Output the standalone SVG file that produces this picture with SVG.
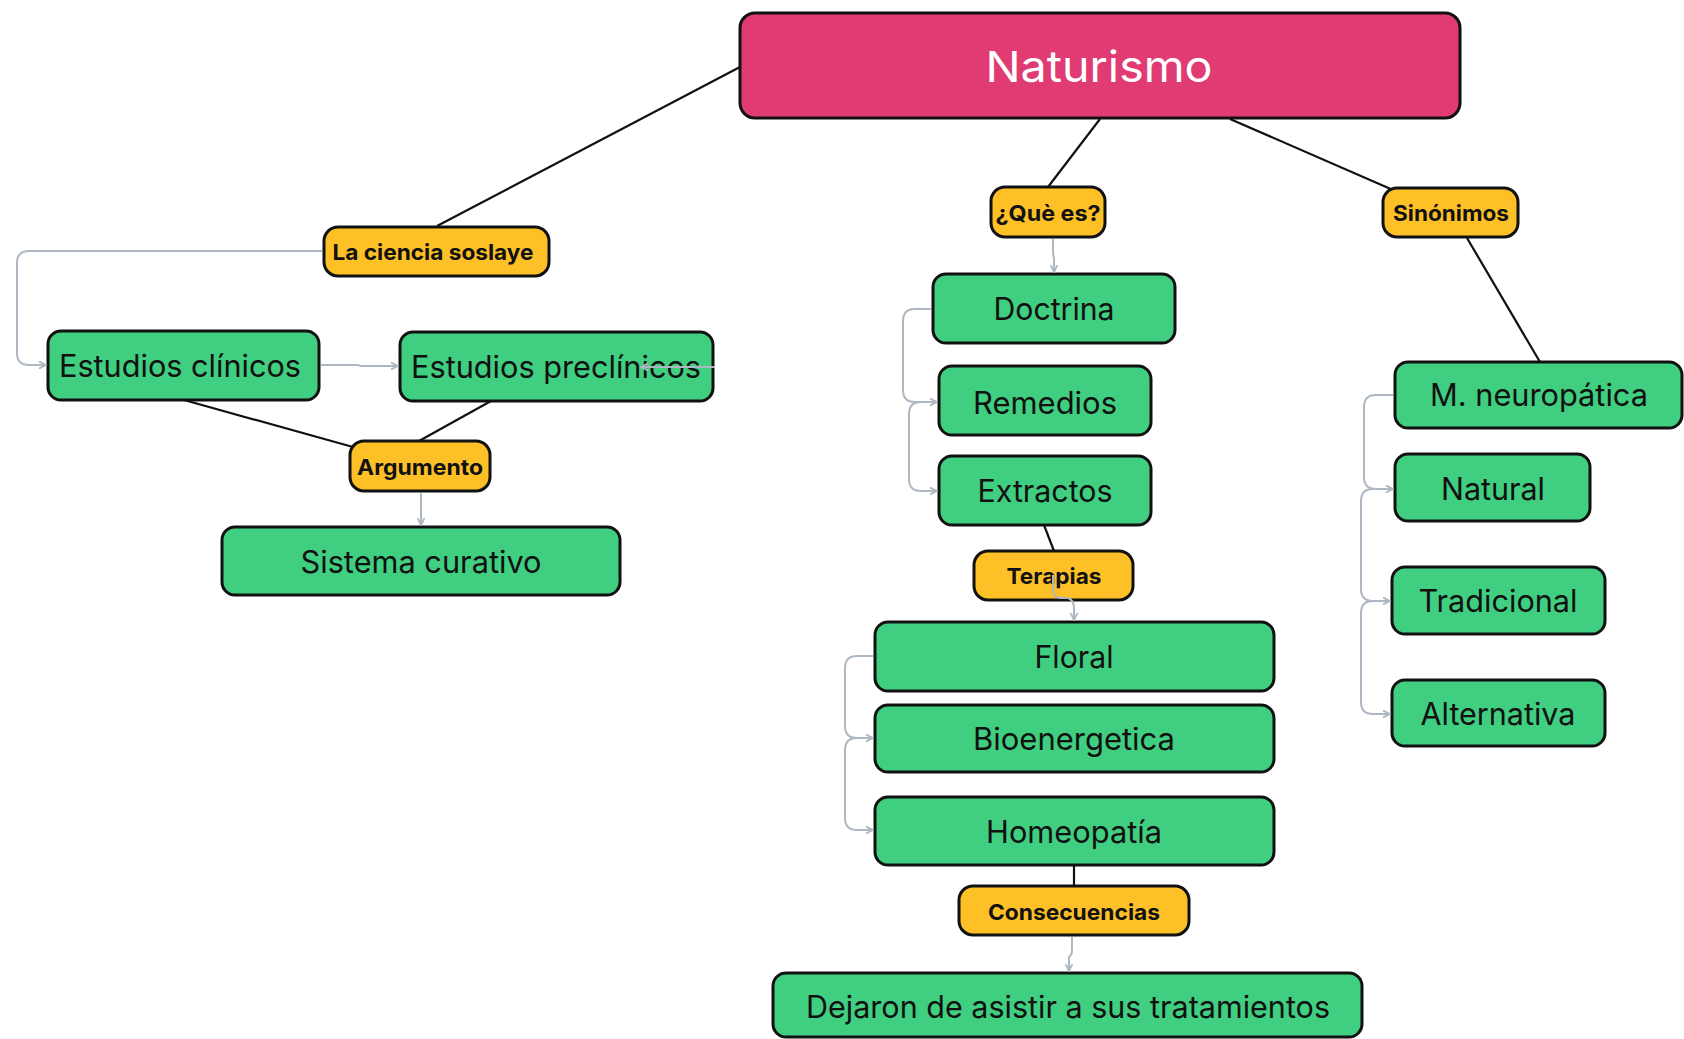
<svg xmlns="http://www.w3.org/2000/svg" width="1684" height="1039" viewBox="0 0 1684 1039">
<style>
.root{fill:#E03B72;stroke:#111;stroke-width:3}
.lnk{fill:#FDC026;stroke:#111;stroke-width:3}
.nd{fill:#40CE80;stroke:#111;stroke-width:3}
.t{font-family:Inter,"Noto Sans","Liberation Sans",sans-serif;text-anchor:middle;fill:#111}
.tr{font-size:43px;fill:#fff}
.tl{font-size:22px;font-weight:700}
.tn{font-size:31px}
.bl{stroke:#111;stroke-width:2.2;fill:none}
.gl{stroke:#AEB8C2;stroke-width:2;fill:none;marker-end:url(#ar)}
</style>
<defs>
<marker id="ar" viewBox="0 0 10 10" refX="9" refY="5" markerWidth="9" markerHeight="9" orient="auto" markerUnits="userSpaceOnUse">
<path d="M2,1.5 L9,5 L2,8.5" fill="none" stroke="#AEB8C2" stroke-width="2" stroke-linecap="round" stroke-linejoin="round"/>
</marker>
</defs>
<rect width="1684" height="1039" fill="#fff"/>
<g id="black-connectors">
<line class="bl" x1="740" y1="67" x2="437" y2="226"/>
<line class="bl" x1="1100" y1="119" x2="1048" y2="187"/>
<line class="bl" x1="1230" y1="119" x2="1393" y2="190"/>
<line class="bl" x1="1467" y1="238" x2="1540" y2="362"/>
<line class="bl" x1="184" y1="400" x2="353" y2="447"/>
<line class="bl" x1="491" y1="401" x2="419" y2="441"/>
<line class="bl" x1="1044" y1="525" x2="1054" y2="551"/>
<line class="bl" x1="1074" y1="865" x2="1074" y2="886"/>
</g>
<g id="naturismo"><rect class="root" x="740" y="13" width="720" height="105" rx="15"/><text class="t tr" x="1099" y="82" textLength="227" lengthAdjust="spacingAndGlyphs">Naturismo</text></g>
<g id="la-ciencia-soslaye"><rect class="lnk" x="324" y="227" width="225" height="49" rx="14"/><text class="t tl" x="433" y="260" textLength="201" lengthAdjust="spacingAndGlyphs">La ciencia soslaye</text></g>
<g id="argumento"><rect class="lnk" x="350" y="441" width="140" height="50" rx="14"/><text class="t tl" x="420" y="475" textLength="126" lengthAdjust="spacingAndGlyphs">Argumento</text></g>
<g id="que-es"><rect class="lnk" x="991" y="187" width="114" height="50" rx="14"/><text class="t tl" x="1048" y="221" textLength="105" lengthAdjust="spacingAndGlyphs">¿Què es?</text></g>
<g id="sinonimos"><rect class="lnk" x="1383" y="188" width="135" height="49" rx="14"/><text class="t tl" x="1451" y="221" textLength="116" lengthAdjust="spacingAndGlyphs">Sinónimos</text></g>
<g id="terapias"><rect class="lnk" x="974" y="551" width="159" height="49" rx="14"/><text class="t tl" x="1054" y="584" textLength="95" lengthAdjust="spacingAndGlyphs">Terapias</text></g>
<g id="consecuencias"><rect class="lnk" x="959" y="886" width="230" height="49" rx="14"/><text class="t tl" x="1074" y="920" textLength="172" lengthAdjust="spacingAndGlyphs">Consecuencias</text></g>
<g id="estudios-clinicos"><rect class="nd" x="48" y="331" width="271" height="69" rx="13"/><text class="t tn" x="180" y="377" textLength="242" lengthAdjust="spacingAndGlyphs">Estudios clínicos</text></g>
<g id="estudios-preclinicos"><rect class="nd" x="400" y="332" width="313" height="69" rx="13"/><text class="t tn" x="556" y="378" textLength="290" lengthAdjust="spacingAndGlyphs">Estudios preclínicos</text></g>
<g id="sistema-curativo"><rect class="nd" x="222" y="527" width="398" height="68" rx="13"/><text class="t tn" x="421" y="573" textLength="241" lengthAdjust="spacingAndGlyphs">Sistema curativo</text></g>
<g id="doctrina"><rect class="nd" x="933" y="274" width="242" height="69" rx="13"/><text class="t tn" x="1054" y="320" textLength="121" lengthAdjust="spacingAndGlyphs">Doctrina</text></g>
<g id="remedios"><rect class="nd" x="939" y="366" width="212" height="69" rx="13"/><text class="t tn" x="1045" y="414" textLength="144" lengthAdjust="spacingAndGlyphs">Remedios</text></g>
<g id="extractos"><rect class="nd" x="939" y="456" width="212" height="69" rx="13"/><text class="t tn" x="1045" y="502" textLength="135" lengthAdjust="spacingAndGlyphs">Extractos</text></g>
<g id="floral"><rect class="nd" x="875" y="622" width="399" height="69" rx="13"/><text class="t tn" x="1074" y="668" textLength="79" lengthAdjust="spacingAndGlyphs">Floral</text></g>
<g id="bioenergetica"><rect class="nd" x="875" y="705" width="399" height="67" rx="13"/><text class="t tn" x="1074" y="750" textLength="202" lengthAdjust="spacingAndGlyphs">Bioenergetica</text></g>
<g id="homeopatia"><rect class="nd" x="875" y="797" width="399" height="68" rx="13"/><text class="t tn" x="1074" y="843" textLength="176" lengthAdjust="spacingAndGlyphs">Homeopatía</text></g>
<g id="dejaron"><rect class="nd" x="773" y="973" width="589" height="64" rx="13"/><text class="t tn" x="1068" y="1018" textLength="524" lengthAdjust="spacingAndGlyphs">Dejaron de asistir a sus tratamientos</text></g>
<g id="m-neuropatica"><rect class="nd" x="1395" y="362" width="287" height="66" rx="13"/><text class="t tn" x="1539" y="406" textLength="218" lengthAdjust="spacingAndGlyphs">M. neuropática</text></g>
<g id="natural"><rect class="nd" x="1395" y="454" width="195" height="67" rx="13"/><text class="t tn" x="1493" y="500" textLength="104" lengthAdjust="spacingAndGlyphs">Natural</text></g>
<g id="tradicional"><rect class="nd" x="1392" y="567" width="213" height="67" rx="13"/><text class="t tn" x="1498" y="612" textLength="159" lengthAdjust="spacingAndGlyphs">Tradicional</text></g>
<g id="alternativa"><rect class="nd" x="1392" y="680" width="213" height="66" rx="13"/><text class="t tn" x="1498" y="725" textLength="155" lengthAdjust="spacingAndGlyphs">Alternativa</text></g>
<g id="connectors">
<path class="gl" d="M322,251 H29 Q17,251 17,263 V353 Q17,365 29,365 H46"/>
<path class="gl" d="M321,365 H358 L361,366 H398"/>
<path class="gl" d="M715,367 H641"/>
<path class="gl" d="M421,493 V525"/>
<path class="gl" d="M1053,239 V250 Q1053,256 1054,258 V272"/>
<path class="gl" d="M931,309 H915 Q903,309 903,321 V390 Q903,402 915,402 H937"/>
<path class="gl" d="M937,402 H921 Q909,402 909,414 V479 Q909,491 921,491 H937"/>
<path class="gl" d="M1053,575 V590 Q1053,597 1060,598 H1068 Q1074,600 1074,608 V620"/>
<path class="gl" d="M873,656 H857 Q845,656 845,668 V726 Q845,738 857,738 H873"/>
<path class="gl" d="M873,738 H857 Q845,738 845,750 V818 Q845,830 857,830 H873"/>
<path class="gl" d="M1072,937 V950 Q1072,955 1069,957 V971"/>
<path class="gl" d="M1393,395 H1376 Q1364,395 1364,407 V477 Q1364,489 1376,489 H1393"/>
<path class="gl" d="M1393,489 H1373 Q1361,489 1361,501 V589 Q1361,601 1373,601 H1390"/>
<path class="gl" d="M1390,601 H1373 Q1361,601 1361,613 V702 Q1361,714 1373,714 H1390"/>
</g>
</svg>
